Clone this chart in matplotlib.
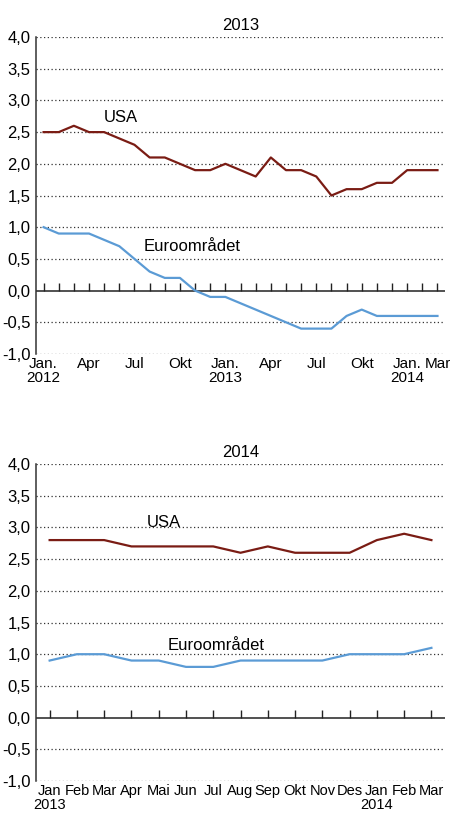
import numpy as np
import matplotlib.pyplot as plt
from matplotlib import font_manager

# ===============================
# DATA
# ===============================
# top panel: Jan 2012 - Mar 2014
usa_2013 = [2.5, 2.5, 2.6, 2.5, 2.5, 2.4, 2.3, 2.1, 2.1, 2.0, 1.9, 1.9, 2.0, 1.9,
            1.8, 2.1, 1.9, 1.9, 1.8, 1.5, 1.6, 1.6, 1.7, 1.7, 1.9, 1.9, 1.9]
euro_2013 = [1.0, 0.9, 0.9, 0.9, 0.8, 0.7, 0.5, 0.3, 0.2, 0.2, 0.0, -0.1, -0.1, -0.2,
             -0.3, -0.4, -0.5, -0.6, -0.6, -0.6, -0.4, -0.3, -0.4, -0.4, -0.4, -0.4, -0.4]
labels_2013 = {0: "Jan.\n2012", 3: "Apr", 6: "Jul", 9: "Okt", 12: "Jan.\n2013",
               15: "Apr", 18: "Jul", 21: "Okt", 24: "Jan.\n2014", 26: "Mar"}

# bottom panel: Jan 2013 - Mar 2014
usa_2014 = [2.8, 2.8, 2.8, 2.7, 2.7, 2.7, 2.7, 2.6, 2.7, 2.6, 2.6, 2.6, 2.8, 2.9, 2.8]
euro_2014 = [0.9, 1.0, 1.0, 0.9, 0.9, 0.8, 0.8, 0.9, 0.9, 0.9, 0.9, 1.0, 1.0, 1.0, 1.1]
labels_2014 = ["Jan\n2013", "Feb", "Mar", "Apr", "Mai", "Jun", "Jul", "Aug", "Sep",
               "Okt", "Nov", "Des", "Jan\n2014", "Feb", "Mar"]

yticks = np.arange(-1.0, 4.01, 0.5)

RED = "#7a1c14"
BLUE = "#5b9bd5"

plt.rcParams['font.family'] = ['Liberation Sans', 'DejaVu Sans']

# condensed font for the month labels if it is there
try:
    font_manager.findfont('Liberation Sans Narrow', fallback_to_default=False)
    XFAM, XSIZE = 'Liberation Sans Narrow', 12
except ValueError:
    XFAM, XSIZE = 'Liberation Sans', 11

fig = plt.figure(figsize=(4.5, 8.38), dpi=100)
ax1 = fig.add_axes([0.08, 0.5776, 0.909, 0.3782])
ax2 = fig.add_axes([0.08, 0.068, 0.909, 0.3783])


def style_axis(ax, n, title, ticks, ticklabels, xsize):
    ax.set_xlim(-0.5, n - 0.5)
    ax.set_ylim(-1.0, 4.0)
    ax.set_yticks(yticks)
    ax.set_yticklabels([f"{v:.1f}".replace(".", ",") for v in yticks], fontsize=12)
    ax.tick_params(axis='y', length=0, pad=4)
    for v in yticks:
        if abs(v) > 1e-9:
            ax.axhline(v, color="#333333", lw=0.9, ls=(0, (1, 2)), zorder=1)
    ax.axhline(0, color="#222222", lw=1.1, zorder=2)
    # tick marks standing up from the zero line
    ax.vlines(np.arange(n), 0, 0.12, color="#222222", lw=1.0, zorder=2)
    for s in ["top", "right", "bottom"]:
        ax.spines[s].set_visible(False)
    ax.spines["left"].set_color("#333333")
    ax.spines["left"].set_linewidth(1.1)
    ax.set_xticks(ticks)
    ax.set_xticklabels(ticklabels, fontsize=xsize, linespacing=1.05, family=XFAM)
    ax.tick_params(axis='x', length=0, pad=2)
    ax.set_title(title, fontsize=12, pad=5)


# ===============================
# TOP PANEL
# ===============================
x1 = np.arange(len(usa_2013))
ax1.plot(x1, usa_2013, color=RED, lw=1.6, zorder=3)
ax1.plot(x1, euro_2013, color=BLUE, lw=1.6, zorder=3)
style_axis(ax1, len(usa_2013), "2013", list(labels_2013.keys()),
           list(labels_2013.values()), XSIZE)
ax1.text(5.1, 2.73, "USA", fontsize=12, ha="center", va="center")
ax1.text(9.8, 0.7, "Euroområdet", fontsize=12, ha="center", va="center")

# ===============================
# BOTTOM PANEL
# ===============================
x2 = np.arange(len(usa_2014))
ax2.plot(x2, usa_2014, color=RED, lw=1.6, zorder=3)
ax2.plot(x2, euro_2014, color=BLUE, lw=1.6, zorder=3)
style_axis(ax2, len(usa_2014), "2014", x2, labels_2014, XSIZE - 0.5)
ax2.text(4.2, 3.07, "USA", fontsize=12, ha="center", va="center")
ax2.text(6.1, 1.14, "Euroområdet", fontsize=12, ha="center", va="center")

fig.savefig("out.png", dpi=100)
